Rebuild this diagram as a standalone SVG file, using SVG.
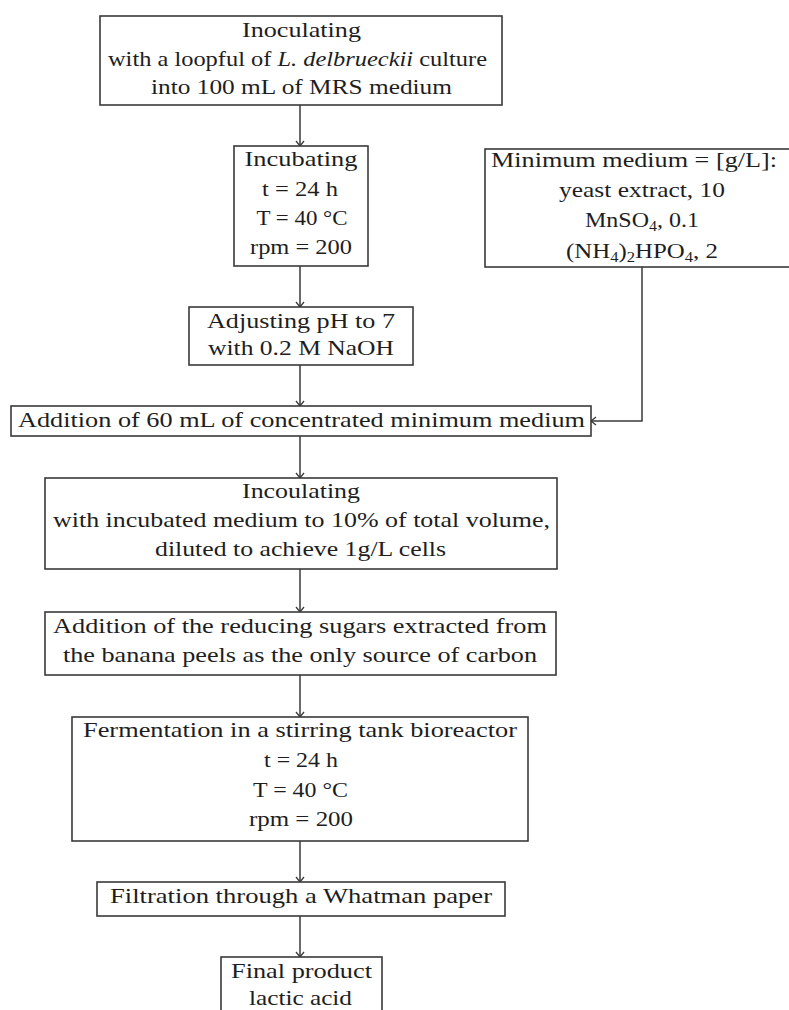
<svg xmlns="http://www.w3.org/2000/svg" width="789" height="1010" viewBox="0 0 789 1010">
<style>
.box{fill:#fff;stroke:#3a3a3a;stroke-width:1.6}
.t{font-family:"Liberation Serif","Times New Roman",serif;font-size:21px;fill:#1e1e1e;text-anchor:middle}
.c{fill:none;stroke:#3a3a3a;stroke-width:1.5}
</style>
<defs>
<marker id="arr" markerUnits="userSpaceOnUse" markerWidth="14" markerHeight="14" viewBox="-7 -7 14 14" refX="0" refY="0" orient="auto" overflow="visible">
<path d="M-5,-4 L0,0 L-5,4" fill="none" stroke="#3a3a3a" stroke-width="1.3"/>
</marker>
</defs>
<rect width="789" height="1010" fill="#fff"/>
<g id="connectors">
<line class="c" x1="300" y1="105" x2="300" y2="146" marker-end="url(#arr)"/>
<line class="c" x1="300" y1="266" x2="300" y2="307" marker-end="url(#arr)"/>
<line class="c" x1="300" y1="365" x2="300" y2="406" marker-end="url(#arr)"/>
<path class="c" d="M642,267 V421 H591" marker-end="url(#arr)"/>
<line class="c" x1="300" y1="436" x2="300" y2="478" marker-end="url(#arr)"/>
<line class="c" x1="300" y1="569" x2="300" y2="612" marker-end="url(#arr)"/>
<line class="c" x1="300" y1="675" x2="300" y2="717" marker-end="url(#arr)"/>
<line class="c" x1="300" y1="841" x2="300" y2="882" marker-end="url(#arr)"/>
<line class="c" x1="300" y1="916" x2="300" y2="957" marker-end="url(#arr)"/>
</g>
<g id="n1">
<rect class="box" x="100" y="16" width="402" height="89"/>
<text class="t" x="301.5" y="37" textLength="119" lengthAdjust="spacingAndGlyphs">Inoculating</text>
<text class="t" x="297.5" y="66" textLength="379" lengthAdjust="spacingAndGlyphs">with a loopful of <tspan font-style="italic">L. delbrueckii</tspan> culture</text>
<text class="t" x="301.5" y="94" textLength="301" lengthAdjust="spacingAndGlyphs">into 100 mL of MRS medium</text>
</g>
<g id="n2">
<rect class="box" x="234" y="146" width="134" height="120"/>
<text class="t" x="301" y="166" textLength="113" lengthAdjust="spacingAndGlyphs">Incubating</text>
<text class="t" x="300" y="196" textLength="76" lengthAdjust="spacingAndGlyphs">t = 24 h</text>
<text class="t" x="302" y="225" textLength="91" lengthAdjust="spacingAndGlyphs">T = 40 °C</text>
<text class="t" x="301" y="254" textLength="102" lengthAdjust="spacingAndGlyphs">rpm = 200</text>
</g>
<g id="n3">
<rect class="box" x="485" y="149" width="330" height="118"/>
<text class="t" x="634" y="167" textLength="286" lengthAdjust="spacingAndGlyphs">Minimum medium  = [g/L]:</text>
<text class="t" x="642" y="197" textLength="166" lengthAdjust="spacingAndGlyphs">yeast extract, 10</text>
<text class="t" x="642" y="227" textLength="114" lengthAdjust="spacingAndGlyphs">MnSO<tspan font-size="14" dy="4">4</tspan><tspan dy="-4">, 0.1</tspan></text>
<text class="t" x="642" y="258" textLength="152" lengthAdjust="spacingAndGlyphs">(NH<tspan font-size="14" dy="4">4</tspan><tspan dy="-4">)</tspan><tspan font-size="14" dy="4">2</tspan><tspan dy="-4">HPO</tspan><tspan font-size="14" dy="4">4</tspan><tspan dy="-4">, 2</tspan></text>
</g>
<g id="n4">
<rect class="box" x="189" y="307" width="224" height="58"/>
<text class="t" x="301" y="328" textLength="188" lengthAdjust="spacingAndGlyphs">Adjusting pH to 7</text>
<text class="t" x="301" y="355" textLength="186" lengthAdjust="spacingAndGlyphs">with 0.2 M NaOH</text>
</g>
<g id="n5">
<rect class="box" x="11" y="406" width="580" height="30"/>
<text class="t" x="301.5" y="427" textLength="567" lengthAdjust="spacingAndGlyphs">Addition of 60 mL of concentrated minimum medium</text>
</g>
<g id="n6">
<rect class="box" x="45" y="478" width="512" height="91"/>
<text class="t" x="301" y="498" textLength="118" lengthAdjust="spacingAndGlyphs">Incoulating</text>
<text class="t" x="301.5" y="527" textLength="497" lengthAdjust="spacingAndGlyphs">with incubated medium to 10% of total volume,</text>
<text class="t" x="300.5" y="556" textLength="291" lengthAdjust="spacingAndGlyphs">diluted to achieve 1g/L cells</text>
</g>
<g id="n7">
<rect class="box" x="45" y="612" width="511" height="63"/>
<text class="t" x="300" y="633" textLength="494" lengthAdjust="spacingAndGlyphs">Addition of the reducing sugars extracted from</text>
<text class="t" x="300" y="662" textLength="474" lengthAdjust="spacingAndGlyphs">the banana peels as the only source of carbon</text>
</g>
<g id="n8">
<rect class="box" x="72" y="717" width="456" height="124"/>
<text class="t" x="300" y="737" textLength="434" lengthAdjust="spacingAndGlyphs">Fermentation in a stirring tank bioreactor</text>
<text class="t" x="301" y="767" textLength="74" lengthAdjust="spacingAndGlyphs">t = 24 h</text>
<text class="t" x="300.5" y="797" textLength="95" lengthAdjust="spacingAndGlyphs">T = 40 °C</text>
<text class="t" x="301" y="826" textLength="104" lengthAdjust="spacingAndGlyphs">rpm = 200</text>
</g>
<g id="n9">
<rect class="box" x="97" y="882" width="408" height="34"/>
<text class="t" x="301" y="903" textLength="382" lengthAdjust="spacingAndGlyphs">Filtration through a Whatman paper</text>
</g>
<g id="n10">
<rect class="box" x="221" y="957" width="161" height="70"/>
<text class="t" x="301.5" y="978" textLength="141" lengthAdjust="spacingAndGlyphs">Final product</text>
<text class="t" x="300.5" y="1005" textLength="103" lengthAdjust="spacingAndGlyphs">lactic acid</text>
</g>
</svg>
